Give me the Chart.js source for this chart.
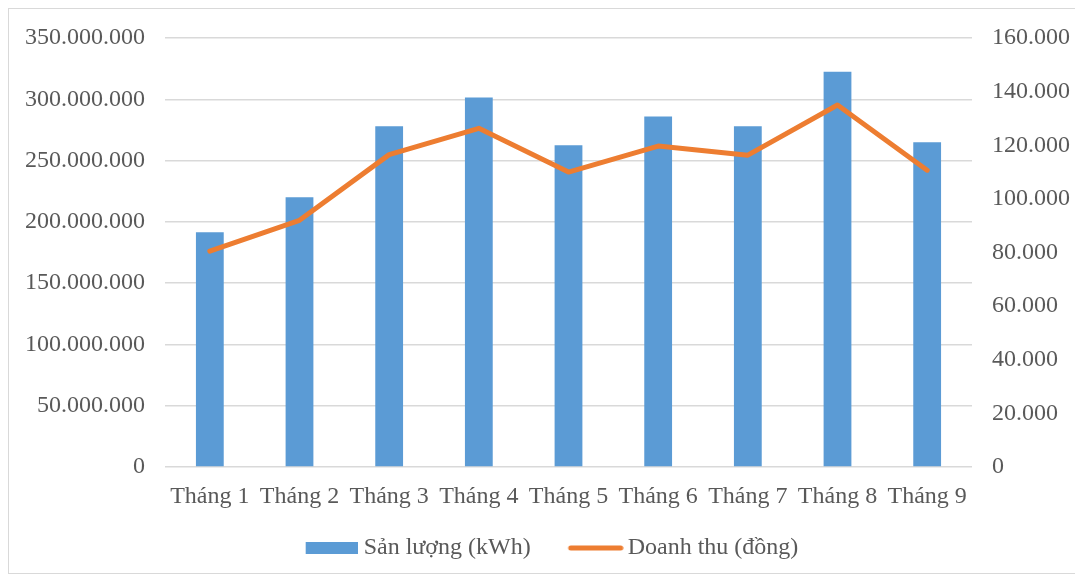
<!DOCTYPE html>
<html>
<head>
<meta charset="utf-8">
<script src="https://cdn.jsdelivr.net/npm/chart.js@4.4.1/dist/chart.umd.min.js"></script>
<style>
    body { margin: 0; background: #fff; }
    #wrap { position: relative; width: 1075px; height: 579px; }
    #frame {
        position: absolute; left: 8px; top: 8px; width: 1075px; height: 566px;
        border: 1px solid #D9D9D9; box-sizing: border-box; pointer-events: none;
    }
</style>
</head>
<body>
<div id="wrap">
    <canvas id="chart" width="1075" height="579"></canvas>
    <div id="frame"></div>
</div>
<script>
// Data
const months = ['Tháng 1', 'Tháng 2', 'Tháng 3', 'Tháng 4', 'Tháng 5', 'Tháng 6', 'Tháng 7', 'Tháng 8', 'Tháng 9'];
const sanLuong = [191500000, 220000000, 278000000, 301500000, 262500000, 286000000, 278000000, 322500000, 265000000];
const doanhThu = [80500, 92000, 116500, 126300, 110000, 119700, 116300, 135000, 110700];

const leftMax = 350000000;
const leftStep = 50000000;
const rightMax = 160000;
const rightStep = 20000;

const seriesNames = ['Sản lượng (kWh)', 'Doanh thu (đồng)'];

const barColor = '#5B9BD5';
const lineColor = '#ED7D31';
const textColor = '#595959';
const font = { family: '"Liberation Serif", "Times New Roman", serif', size: 24 };

// format 350000000 -> 350.000.000
function dotFormat(v) {
    return String(Math.round(v)).replace(/\B(?=(\d{3})+(?!\d))/g, '.');
}

// legend swatches drawn right-aligned in a small canvas, so the text sits close
function swatch(w, h, draw) {
    const c = document.createElement('canvas');
    c.width = w; c.height = h;
    draw(c.getContext('2d'));
    return c;
}
const barSwatch = swatch(72, 12, ctx => {
    ctx.fillStyle = barColor;
    ctx.fillRect(20, 0, 52, 12);
});
const lineSwatch = swatch(76, 6, ctx => {
    ctx.strokeStyle = lineColor;
    ctx.lineWidth = 5;
    ctx.lineCap = 'round';
    ctx.beginPath();
    ctx.moveTo(23, 3);
    ctx.lineTo(73, 3);
    ctx.stroke();
});

new Chart(document.getElementById('chart'), {
    type: 'bar',
    data: {
        labels: months,
        datasets: [{
            type: 'line',
            label: seriesNames[1],
            data: doanhThu,
            yAxisID: 'y1',
            borderColor: lineColor,
            backgroundColor: lineColor,
            borderWidth: 5,
            borderCapStyle: 'round',
            borderJoinStyle: 'round',
            pointRadius: 0,
            tension: 0,
            order: 0
        }, {
            type: 'bar',
            label: seriesNames[0],
            data: sanLuong,
            yAxisID: 'y',
            backgroundColor: barColor,
            categoryPercentage: 0.31,
            barPercentage: 1,
            order: 1
        }]
    },
    options: {
        responsive: false,
        animation: false,
        layout: { padding: { top: 38, left: 18, right: 3, bottom: 9 } },
        plugins: {
            tooltip: { enabled: false },
            legend: {
                position: 'bottom',
                labels: {
                    font: font,
                    color: textColor,
                    usePointStyle: true,
                    pointStyleWidth: 60,
                    boxHeight: 12,
                    padding: 25,
                    generateLabels(chart) {
                        return [1, 0].map(i => ({
                            text: chart.data.datasets[i].label,
                            pointStyle: i === 0 ? lineSwatch : barSwatch,
                            fontColor: textColor,
                            lineWidth: 0,
                            datasetIndex: i
                        }));
                    }
                }
            }
        },
        scales: {
            x: {
                grid: { display: false },
                border: { display: false },
                ticks: { font: font, color: textColor, padding: 7, maxRotation: 0, autoSkip: false },
                afterFit: s => { s.height = 44; }
            },
            y: {
                position: 'left',
                min: 0,
                max: leftMax,
                grid: { color: '#D9D9D9', lineWidth: 1.5, drawTicks: false },
                border: { display: false },
                ticks: {
                    stepSize: leftStep,
                    font: font,
                    color: textColor,
                    padding: 20,
                    callback: v => dotFormat(v)
                },
                afterFit: s => { s.width = 147; }
            },
            y1: {
                position: 'right',
                min: 0,
                max: rightMax,
                grid: { display: false, drawTicks: false },
                border: { display: false },
                ticks: {
                    stepSize: rightStep,
                    font: font,
                    color: textColor,
                    padding: 20,
                    callback: v => dotFormat(v)
                },
                afterFit: s => { s.width = 100; }
            }
        }
    }
});
</script>
</body>
</html>
